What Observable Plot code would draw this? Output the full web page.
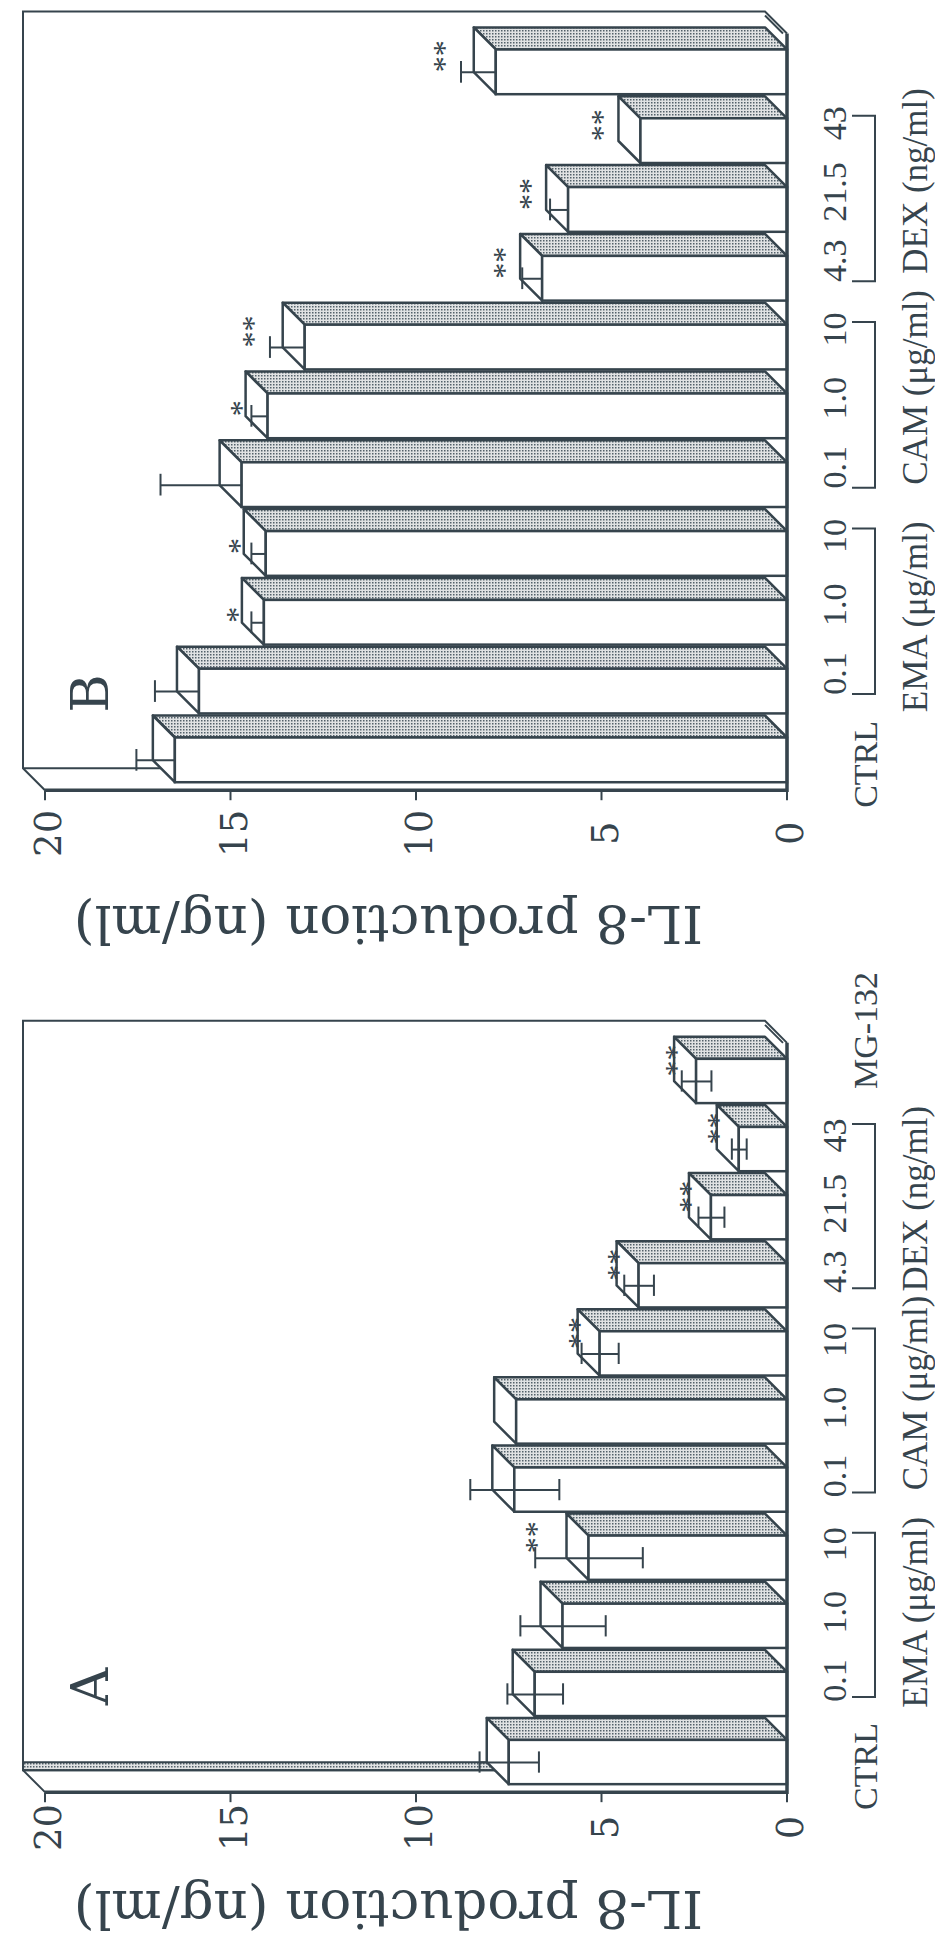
<!DOCTYPE html>
<html><head><meta charset="utf-8">
<script src="https://cdn.jsdelivr.net/npm/d3@7"></script>
<script src="https://cdn.jsdelivr.net/npm/@observablehq/plot@0.6"></script>
<style>
html,body{margin:0;padding:0;background:#fff;}
#fig{width:935px;height:1940px;overflow:hidden;background:#fff;}
#fig svg{display:block;}
</style></head><body><div id="fig"></div>
<script>
// ---- data ----
const categories = ["CTRL","EMA 0.1","EMA 1.0","EMA 10","CAM 0.1","CAM 1.0","CAM 10","DEX 4.3","DEX 21.5","DEX 43","MG-132"];
const doseLabelsA = ["CTRL","0.1","1.0","10","0.1","1.0","10","4.3","21.5","43","MG-132"];
const doseLabelsB = ["CTRL","0.1","1.0","10","0.1","1.0","10","4.3","21.5","43",""];
const groupNames = ["EMA (μg/ml)","CAM (μg/ml)","DEX (ng/ml)"];
const groupFirst = ["EMA 0.1","CAM 0.1","DEX 4.3"];
const groupMiddle = ["EMA 1.0","CAM 1.0","DEX 21.5"];
const groupLast = ["EMA 10","CAM 10","DEX 43"];
const valuesA = [7.5, 6.8, 6.05, 5.35, 7.35, 7.3, 5.05, 4.0, 2.05, 1.3, 2.45];
const errorsA = [0.8, 0.75, 1.15, 1.45, 1.2, 0, 0.5, 0.4, 0.35, 0.2, 0.4];
const starsA  = ["","","","**","","","**","**","**","**","**"];
const valuesB = [16.5, 15.85, 14.1, 14.05, 14.7, 14.0, 13.0, 6.6, 5.9, 3.95, 7.85];
const errorsB = [1.05, 1.2, 0.35, 0.4, 2.2, 0.45, 0.95, 0.55, 0.5, 0, 0.95];
const starsB  = ["","","*","*","","*","**","**","**","**","**"];
const valueTicks = [0, 5, 10, 15, 20];
const axisTitle = "IL-8 production (ng/ml)";

// ---- style ----
const INK = "#36444d";
const D = 22;
const SERIF = "Liberation Serif";
const WIDE = "DejaVu Serif";

function defsMark(pid) {
  return () => {
    const g = d3.create("svg:g");
    const p = g.append("defs").append("pattern").attr("id", "stip" + pid)
      .attr("width", 3).attr("height", 3).attr("patternUnits", "userSpaceOnUse");
    p.append("rect").attr("width", 3).attr("height", 3).attr("fill", "#e0e2e3");
    p.append("rect").attr("width", 1.5).attr("height", 1.5).attr("fill", "#526069");
    return g.node();
  };
}

function frameMark(pid, strip) {
  return (index, {x, y}) => {
    const bw = y.bandwidth();
    const axisY = y(categories[0]) + bw + 8;
    const topY = y(categories[categories.length - 1]) - D - 16;
    const xl = x(20), x0 = x(0);
    const g = d3.create("svg:g").attr("fill", "none").attr("stroke", INK).attr("stroke-width", 2);
    if (strip) g.append("path").attr("fill", `url(#stip${pid})`)
      .attr("d", `M${xl-D},${axisY-D-8}L${x0-D},${axisY-D-8}L${x0-D},${axisY-D}L${xl-D},${axisY-D}Z`);
    g.append("path").attr("d", `M${x0},${topY+D}L${x0-D},${topY}L${xl-D},${topY}L${xl-D},${axisY-D}L${xl},${axisY}`);
    g.append("path").attr("d", `M${x0-D},${topY+4}L${x0-4},${topY+D}`);
    g.append("path").attr("d", `M${xl-D},${axisY-D}L${x0-D},${axisY-D}`);
    return g.node();
  };
}

function facesMark(rows, pid) {
  return (index, {x, y}) => {
    const bw = y.bandwidth();
    const x0 = x(0);
    const g = d3.create("svg:g").attr("stroke", INK).attr("stroke-width", 2.5).attr("stroke-linejoin", "round");
    for (const r of rows) {
      const xe = x(r.value), yt = y(r.cat), yb = yt + bw;
      g.append("path").attr("fill", `url(#stip${pid})`)
        .attr("d", `M${xe},${yt}L${x0},${yt}L${x0-D},${yt-D}L${xe-D},${yt-D}Z`);
      g.append("path").attr("fill", "#fff")
        .attr("d", `M${xe},${yt}L${xe},${yb}L${xe-D},${yb-D}L${xe-D},${yt-D}Z`);
    }
    return g.node();
  };
}

function axisMark() {
  return (index, {x, y}) => {
    const bw = y.bandwidth();
    const axisY = y(categories[0]) + bw + 8;
    const topY = y(categories[categories.length - 1]) - D - 16;
    const xl = x(20), x0 = x(0);
    const g = d3.create("svg:g").attr("fill", "none").attr("stroke", INK);
    g.append("path").attr("stroke-width", 3.5).attr("d", `M${xl},${axisY}L${x0},${axisY}L${x0},${topY+D}`);
    for (const t of valueTicks) {
      g.append("path").attr("stroke-width", 2).attr("d", `M${x(t)},${axisY}L${x(t)},${axisY+10}`);
    }
    return g.node();
  };
}

function bracketMark() {
  return (index, {x, y}) => {
    const bw = y.bandwidth(), x0 = x(0);
    const xb = x0 + 88, xt = x0 + 65;
    const g = d3.create("svg:g").attr("fill", "none").attr("stroke", INK).attr("stroke-width", 2);
    groupFirst.forEach((f, i) => {
      const ya = y(f) + bw / 2 + 3, yb = y(groupLast[i]) + bw / 2 - 25;
      g.append("path").attr("d", `M${xt},${ya}L${xb},${ya}L${xb},${yb}L${xt},${yb}`);
    });
    return g.node();
  };
}

function panel(cfg) {
  const rows = categories.map((cat, i) => ({
    cat, value: cfg.values[i], err: cfg.errors[i], star: cfg.stars[i], label: cfg.labels[i]
  }));
  const withErr = rows.filter(r => r.err > 0);
  const txt = {fill: INK, stroke: "none"};
  const marks = [
    defsMark(cfg.id),
    frameMark(cfg.id, cfg.strip),
    facesMark(rows, cfg.id),
    Plot.barX(rows, {x1: 0, x2: "value", y: "cat", fill: "#fff", stroke: INK, strokeWidth: 2.5}),
    axisMark(),
    Plot.link(withErr, {x1: cfg.symmetric ? (r => r.value - r.err) : "value", x2: r => r.value + r.err,
      y1: "cat", y2: "cat", stroke: INK, strokeWidth: 2}),
    Plot.tickX(withErr, {x: r => r.value + r.err, y: "cat", insetTop: 11.5, insetBottom: 11.5, stroke: INK, strokeWidth: 2}),
  ];
  if (cfg.symmetric) marks.push(
    Plot.tickX(withErr, {x: r => r.value - r.err, y: "cat", insetTop: 11.5, insetBottom: 11.5, stroke: INK, strokeWidth: 2})
  );
  marks.push(
    Plot.text(rows.filter(r => r.star === "**"), {x: r => r.value + Math.max(r.err, 0.6), y: "cat", text: "star",
      rotate: -90, textAnchor: "start", dx: cfg.starDx2, dy: cfg.starDy, fontFamily: SERIF, fontSize: 32, ...txt}),
    Plot.text(rows.filter(r => r.star === "*"), {x: r => r.value + Math.max(r.err, 0.6), y: "cat", text: "star",
      rotate: -90, textAnchor: "start", dx: cfg.starDx1, dy: cfg.starDy, fontFamily: SERIF, fontSize: 32, ...txt}),
    Plot.text(rows.filter(r => r.label && r.label !== "CTRL" && r.label !== "MG-132"), {x: () => 0, y: "cat", text: "label",
      rotate: -90, dx: 48, dy: cfg.labelDy, fontFamily: SERIF, fontSize: 34, ...txt}),
    Plot.text(rows.filter(r => r.label === "CTRL"), {x: () => 0, y: "cat", text: "label",
      rotate: -90, dx: 79, dy: 4, fontFamily: SERIF, fontSize: 34, ...txt}),
    Plot.text(rows.filter(r => r.label === "MG-132"), {x: () => 0, y: "cat", text: "label",
      rotate: -90, dx: 79, dy: -51, fontFamily: SERIF, fontSize: 34, ...txt}),
    bracketMark(),
    ...groupNames.map((name, i) => Plot.text([name], {x: () => 0, y: () => groupMiddle[i], text: d => d,
      rotate: -90, dx: 128, dy: cfg.groupDy[i], fontFamily: SERIF, fontSize: 35, ...txt})),
    Plot.text(valueTicks, {x: d => d, y: () => categories[0], text: d => String(d),
      rotate: -90, dx: 4, dy: cfg.tickDy, fontFamily: WIDE, fontSize: 37, ...txt}),
    Plot.text([axisTitle], {x: () => 10, y: () => categories[0], text: d => d,
      rotate: 180, dx: -28, dy: cfg.titleDy, fontFamily: WIDE, fontSize: 53, ...txt}),
    Plot.text([cfg.id], {x: () => 20, y: () => categories[0], text: d => d,
      rotate: -90, dx: 46, dy: cfg.letterDy, fontFamily: WIDE, fontSize: 52, ...txt})
  );
  return Plot.plot({
    width: 935,
    height: cfg.height,
    margin: 0,
    x: {type: "linear", domain: [0, 20], range: [787, 45], axis: null},
    y: {type: "band", domain: categories.slice().reverse(), range: cfg.yRange, padding: 0.35, round: false, axis: null},
    style: {background: "#fff"},
    marks
  });
}

const fig = document.getElementById("fig");
fig.appendChild(panel({
  id: "B", values: valuesB, errors: errorsB, stars: starsB, labels: doseLabelsB,
  yRange: [25.4, 806.3], height: 965, symmetric: false, strip: false,
  starDx2: -16, starDx1: -4, starDy: 0, labelDy: -18, groupDy: [-6, -29, -29],
  tickDy: 73, titleDy: 163, letterDy: -67
}));
fig.appendChild(panel({
  id: "A", values: valuesA, errors: errorsA, stars: starsA, labels: doseLabelsA,
  yRange: [70, 843], height: 975, symmetric: true, strip: true,
  starDx2: 2, starDx1: 2, starDy: -5, labelDy: -14, groupDy: [-14, -29, -19],
  tickDy: 65, titleDy: 145, letterDy: -76
}));
</script></body></html>
